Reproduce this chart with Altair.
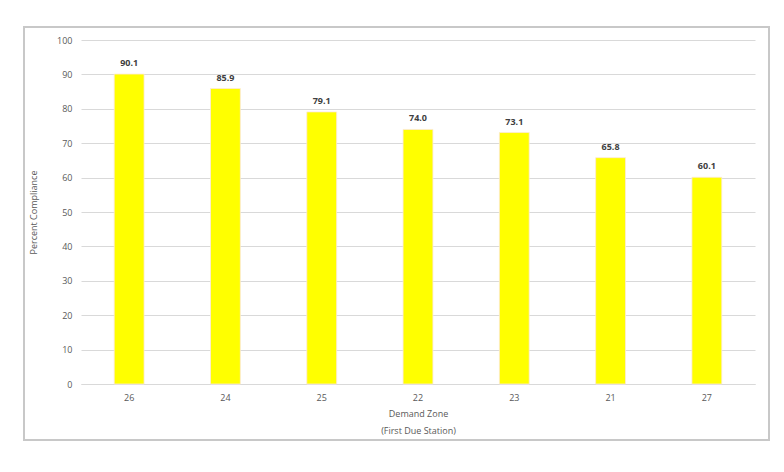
import altair as alt
import pandas as pd

zones = ["26", "24", "25", "22", "23", "21", "27"]
compliance = [90.1, 85.9, 79.1, 74.0, 73.1, 65.8, 60.1]

df = pd.DataFrame({"zone": zones, "value": compliance})
df["label"] = [f"{v:.1f}" for v in compliance]

font = "Open Sans"

x = alt.X("zone:N", sort=zones,
          title=["Demand Zone", "(First Due Station)"],
          scale=alt.Scale(paddingInner=0.69, paddingOuter=0.345),
          axis=alt.Axis(labelAngle=0, ticks=False, domainColor="#d9d9d9",
                        labelColor="#595959", labelFont=font, labelFontSize=9,
                        labelPadding=9, titleFont=font, titleFontSize=9,
                        titleFontWeight="normal", titleColor="#595959",
                        titlePadding=7, titleLineHeight=17))
y = alt.Y("value:Q", title="Percent Compliance",
          scale=alt.Scale(domain=[0, 100]),
          axis=alt.Axis(values=list(range(0, 101, 10)), tickCount=20, labelOverlap=False,
                        ticks=False, domain=False,
                        gridColor="#d9d9d9", labelColor="#595959", labelFont=font,
                        labelFontSize=9, labelPadding=9, titleFont=font,
                        titleFontSize=9, titleFontWeight="normal",
                        titleColor="#595959", titlePadding=18))

frame = alt.Chart(df).mark_rect(fillOpacity=0, stroke="#c8c8c8", strokeWidth=1.5).encode(
    x=alt.value(-57), x2=alt.value(688), y=alt.value(-13), y2=alt.value(56 + 344)
)
bars = alt.Chart(df).mark_bar(color="#ffff00", stroke="#fde9d9", strokeWidth=0.8).encode(x=x, y=y)
text = alt.Chart(df).mark_text(dy=-11, font=font, fontSize=9, fontWeight="bold",
                               color="#404040").encode(x=x, y=y, text="label:N")

chart = (frame + bars + text).properties(
    width=674, height=344,
    autosize=alt.AutoSizeParams(type="none"),
    padding={"left": 81, "top": 40, "right": 29, "bottom": 88},
    background="white",
).configure_view(stroke=None)

chart.save("out.html", embed_options={"renderer": "svg", "actions": False})
